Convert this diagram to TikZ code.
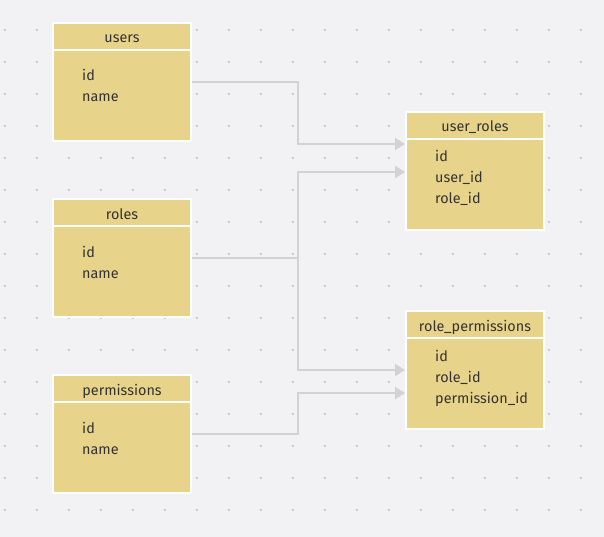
\documentclass[tikz,border=0pt]{standalone}
\usepackage{fontspec}
\setmainfont{Fira Sans}
\usepackage{tikz}
\usetikzlibrary{arrows.meta,calc,positioning}
\definecolor{canvas}{HTML}{F2F2F4}
\definecolor{griddot}{HTML}{CBCBCE}
\definecolor{tablefill}{HTML}{E7D48A}
\definecolor{linkgray}{HTML}{D2D2D5}
\definecolor{inkgray}{HTML}{333333}

\begin{document}
\begin{tikzpicture}[
		x=1pt, y=-1pt,
		head/.style={rectangle, draw=white, line width=2pt, fill=tablefill, minimum width=138pt, minimum height=27pt, inner sep=0pt},
		body/.style={rectangle, draw=white, line width=2pt, fill=tablefill, minimum width=138pt, minimum height=91pt, inner sep=0pt},
		title/.style={anchor=base, inner sep=0pt, text=inkgray, font=\fontsize{14.4}{17}\selectfont},
		field/.style={anchor=base west, inner sep=0pt, text=inkgray, font=\fontsize{14.4}{17}\selectfont},
		link/.style={draw=linkgray, line width=2pt},
		>={Triangle[length=10pt,width=12pt]}
		]
	
		% fond et grille de points
		\fill[canvas] (0,0) rectangle (604,537);
		\foreach \i in {0,...,18}
			\foreach \j in {0,...,15}
				\fill[griddot] ({5+32*\i-1},{30+32*\j-1}) rectangle ++(2,2);
	
		% tables de gauche
		\node[head] (usersH) at (122, 36.5) {};
		\node[body] (usersB) at (122, 95.5) {};
		\node[title] (usersT) at (122, 43) {users};
		\node[field] (usersId) at (82, 81) {id};
		\node[field] (usersName) at (82, 102) {name};
	
		\node[head] (rolesH) at (122, 212.5) {};
		\node[body] (rolesB) at (122, 271.5) {};
		\node[title] (rolesT) at (122, 219) {roles};
		\node[field] (rolesId) at (82, 257) {id};
		\node[field] (rolesName) at (82, 278) {name};
	
		\node[head] (permsH) at (122, 388.5) {};
		\node[body] (permsB) at (122, 447.5) {};
		\node[title] (permsT) at (122, 395) {permissions};
		\node[field] (permsId) at (82, 433) {id};
		\node[field] (permsName) at (82, 454) {name};
	
		% tables de liaison
		\node[head] (urH) at (475, 125.5) {};
		\node[body] (urB) at (475, 184.5) {};
		\node[title] (urT) at (475, 132) {user\_roles};
		\node[field] (urId) at (435, 162) {id};
		\node[field] (urUser) at (435, 183) {user\_id};
		\node[field] (urRole) at (435, 204) {role\_id};
	
		\node[head] (rpH) at (475, 324.5) {};
		\node[body] (rpB) at (475, 383.5) {};
		\node[title] (rpT) at (475, 331) {role\_permissions};
		\node[field] (rpId) at (435, 361) {id};
		\node[field] (rpRole) at (435, 382) {role\_id};
		\node[field] (rpPerm) at (435, 403) {permission\_id};
	
		% liens
		\coordinate (bus) at (298, 0);
		\coordinate (usersOut) at ([yshift=-33pt]usersB.north east);
		\coordinate (rolesOut) at ([yshift=-33pt]rolesB.north east);
		\coordinate (permsOut) at ([yshift=-33pt]permsB.north east);
		\coordinate (urIn1) at ([yshift=-6pt]urB.north west);
		\coordinate (urIn2) at ([yshift=-34pt]urB.north west);
		\coordinate (rpIn1) at ([yshift=-33pt]rpB.north west);
		\coordinate (rpIn2) at ([yshift=-56pt]rpB.north west);
	
		\draw[link, ->] (usersOut) -- (usersOut -| bus) |- (urIn1);
		\draw[link, ->] (rolesOut) -- (rolesOut -| bus) |- (urIn2);
		\draw[link, ->] (rolesOut -| bus) |- (rpIn1);
		\draw[link, ->] (permsOut) -- (permsOut -| bus) |- (rpIn2);
	\end{tikzpicture}
\end{document}
